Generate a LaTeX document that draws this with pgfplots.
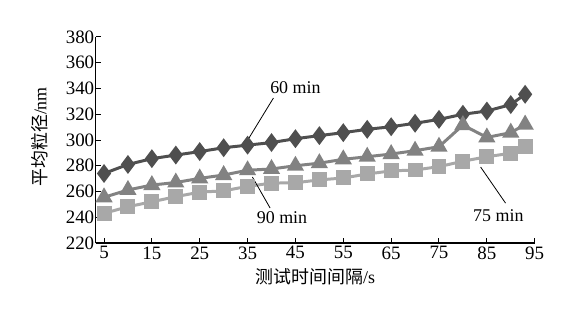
\documentclass[border=0pt]{standalone}
\usepackage{fontspec}
\setmainfont{Liberation Serif}
\newfontfamily\cjk{Noto Sans CJK SC}
\usepackage{pgfplots}
\pgfplotsset{compat=1.18}
\definecolor{c60}{HTML}{4F4F4F}
\definecolor{c90}{HTML}{828282}
\definecolor{c75}{HTML}{A8A8A8}
\begin{document}
\begin{tikzpicture}[x=1bp,y=1bp]
\begin{axis}[
  at={(95.7bp,76bp)}, anchor=south west,
  scale only axis, width=439bp, height=206bp,
  xmin=3.26, xmax=95, ymin=220, ymax=380,
  axis lines=left, axis line style={line width=1.5pt,-},
  xtick={5,15,...,95}, ytick={220,240,...,380},
  tick style={line width=1pt, black}, major tick length=5bp,
  tick align=inside,
  /pgf/number format/assume math mode=true,
  ticklabel style={font=\fontsize{19}{21}\selectfont},
  yticklabel style={xshift=2bp},
  xlabel={{\cjk 测试时间间隔}/s},
  ylabel={{\cjk 平均粒径}/nm},
  every axis x label/.style={at={(axis description cs:0.5,-0.165)}, anchor=center, font=\fontsize{18}{20}\selectfont},
  every axis y label/.style={at={(axis description cs:-0.128,0.515)}, rotate=90, anchor=center, font=\fontsize{18}{20}\selectfont},
  clip=false,
]
\addplot[c60, line width=3pt, mark=diamond*, mark size=7bp, mark options={solid}] coordinates {
(5,274) (10,281) (15,285.5) (20,288.3) (25,291) (30,294) (35,296) (40,298) (45,301) (50,303.4) (55,305.7) (60,308.3) (65,310.3) (70,313) (75,316) (80,320) (85,322.5) (90,327.5) (93,335.5)};
\addplot[c90, line width=3pt, mark=triangle*, mark size=7bp, mark options={solid}] coordinates {
(5,255.5) (10,261.2) (15,265) (20,267) (25,270.2) (30,272.8) (35,276.5) (40,277.5) (45,280) (50,282) (55,285) (60,287) (65,289.1) (70,291.7) (75,294.8) (80,311.6) (85,302) (90,305.7) (93,312)};
\addplot[c75, line width=3pt, mark=square*, mark size=6bp, mark options={solid}] coordinates {
(5,243) (10,248.2) (15,252) (20,256) (25,259.5) (30,260.5) (35,264) (40,266.5) (45,266.8) (50,269) (55,270.5) (60,273.6) (65,276) (70,276.7) (75,279.3) (80,283.5) (85,287) (90,289.7) (93,295.3)};
\draw[line width=0.8pt] (axis cs:40.4,332.6) -- (axis cs:35.3,301.6);
\draw[line width=0.8pt] (axis cs:36,271.3) -- (axis cs:39.7,247.2);
\draw[line width=0.8pt] (axis cs:83.7,279) -- (axis cs:88.9,251);
\node[font=\fontsize{18}{20}\selectfont] at (axis cs:45,340.4) {60 min};
\node[font=\fontsize{18}{20}\selectfont] at (axis cs:42.2,239.4) {90 min};
\node[font=\fontsize{18}{20}\selectfont] at (axis cs:87.4,241) {75 min};
\end{axis}
\pgfresetboundingbox
\path (0,0) rectangle (587bp,319bp);
\end{tikzpicture}
\end{document}
